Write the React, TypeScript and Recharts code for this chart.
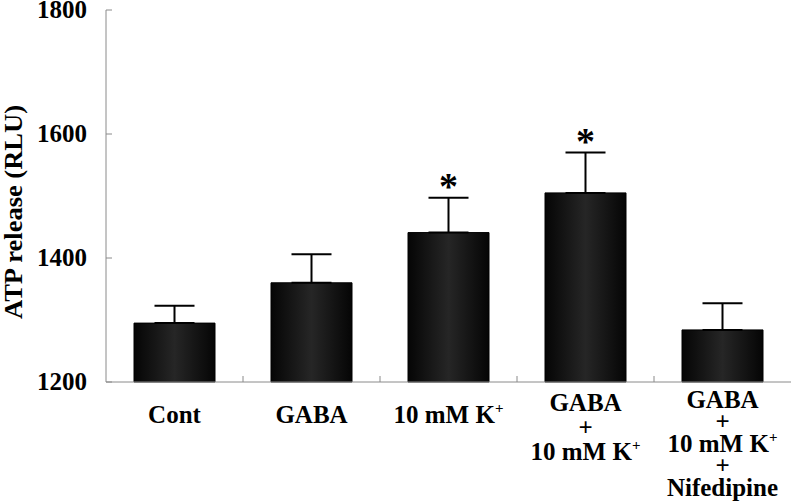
import { BarChart, Bar, XAxis, YAxis, ErrorBar, LabelList } from 'recharts'

const groups = ['Cont', 'GABA', '10 mM K+', 'GABA\n+\n10 mM K+', 'GABA\n+\n10 mM K+\n+\nNifedipine']
const means = [1295, 1360, 1441, 1505, 1284]
const sems = [28, 46, 56, 65, 43]
const significant = [false, false, true, true, false]
const yTicks = [1200, 1400, 1600, 1800]

const data = groups.map((g, i) => ({ group: g, mean: means[i], err: [0, sems[i]] }))

const W = 791
const H = 502
const LEFT = 106
const band = (W - LEFT) / groups.length
const font = "'Liberation Serif', 'Times New Roman', serif"
const axisColor = '#8a8a8a'
const txt = { fontFamily: font, fontWeight: 'bold' as const }

// "K+" gets a superscript plus
const renderLine = (line: string) => {
  if (line.endsWith('K+')) {
    return (
      <>
        {line.slice(0, -1)}
        <tspan dy={-10} fontSize={15}>+</tspan>
      </>
    )
  }
  return line
}

const XTick = (props: any) => {
  const { x, y, payload, index } = props
  const lines = String(payload.value).split('\n')
  const first = lines.length === 1 ? 41 : lines.length === 3 ? 29 : 26
  const lh = lines.length === 3 ? 24.5 : 22
  return (
    <g>
      {index < groups.length - 1 && (
        <line x1={x + band / 2} x2={x + band / 2} y1={y - 6} y2={y} stroke={axisColor} />
      )}
      {lines.map((line, i) => (
        <text key={i} x={x} y={y + first + i * lh} textAnchor="middle" style={txt} fontSize={25} fill="#000">
          {renderLine(line)}
        </text>
      ))}
    </g>
  )
}

const YTick = (props: any) => {
  const { x, y, payload } = props
  return (
    <g>
      <line x1={LEFT} x2={LEFT + 6} y1={y} y2={y} stroke={axisColor} />
      <text x={x} y={y + 8} textAnchor="end" style={txt} fontSize={25} fill="#000">
        {payload.value}
      </text>
    </g>
  )
}

const Star = (props: any) => {
  const { x, y, width, height, index } = props
  if (!significant[index]) return null
  const pxPerUnit = height / (means[index] - 1200)
  const top = y - sems[index] * pxPerUnit
  return (
    <text x={x + width / 2} y={top + 1} textAnchor="middle" style={txt} fontSize={38} fill="#000">
      *
    </text>
  )
}

export default function App() {
  return (
    <div style={{ position: 'absolute', left: 0, top: 0, background: '#fff' }}>
      <BarChart width={W} height={H} data={data} margin={{ top: 10, right: 0, left: 0, bottom: 0 }}>
        <defs>
          <linearGradient id="barFill" x1="0" y1="0" x2="1" y2="0">
            <stop offset="0%" stopColor="#050505" />
            <stop offset="50%" stopColor="#262626" />
            <stop offset="100%" stopColor="#050505" />
          </linearGradient>
        </defs>
        <XAxis
          dataKey="group"
          height={120}
          stroke={axisColor}
          tickLine={false}
          tickSize={0}
          tickMargin={0}
          interval={0}
          tick={<XTick />}
        />
        <YAxis
          width={LEFT}
          domain={[1200, 1800]}
          ticks={yTicks}
          stroke={axisColor}
          tickLine={false}
          tickSize={0}
          tickMargin={19}
          tick={<YTick />}
          label={{
            content: () => (
              <text
                x={22}
                y={212}
                transform="rotate(-90, 22, 212)"
                textAnchor="middle"
                textLength={214}
                lengthAdjust="spacingAndGlyphs"
                style={txt}
                fontSize={25}
                fill="#000"
              >
                ATP release (RLU)
              </text>
            ),
          }}
        />
        <Bar dataKey="mean" barSize={81} fill="url(#barFill)" stroke="#000" isAnimationActive={false}>
          <ErrorBar dataKey="err" width={20} strokeWidth={2} stroke="#000" direction="y" />
          <LabelList dataKey="mean" content={<Star />} />
        </Bar>
      </BarChart>
    </div>
  )
}
